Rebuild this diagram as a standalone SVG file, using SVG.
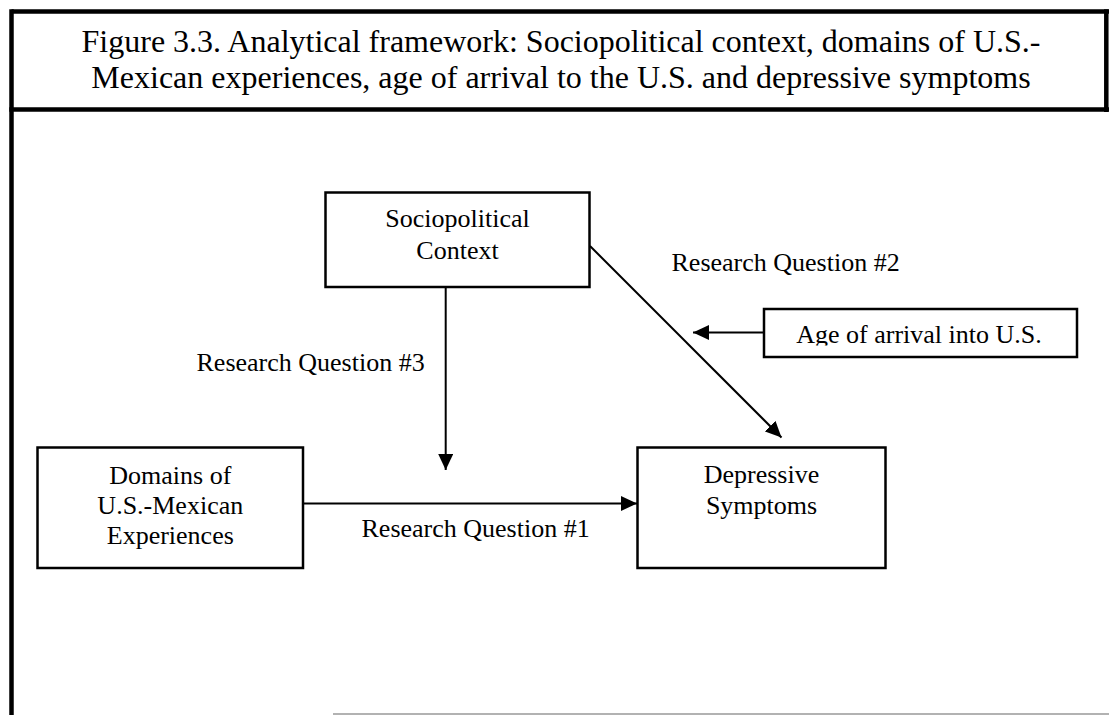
<svg xmlns="http://www.w3.org/2000/svg" width="1109" height="715" viewBox="0 0 1109 715">
<style>
text{font-family:"Liberation Serif","Times New Roman",serif;fill:#000}
.title{font-size:32px;text-anchor:middle}
.lbl{font-size:26px;text-anchor:middle}
.rq{font-size:26px}
.box{fill:#fff;stroke:#000;stroke-width:2.5}
.frame{fill:none;stroke:#000;stroke-width:4.5}
.conn line{stroke:#000;stroke-width:2}
</style>
<defs>
<marker id="ah" markerUnits="userSpaceOnUse" markerWidth="17" markerHeight="15" refX="16" refY="7.5" orient="auto">
<path d="M0,0 L16,7.5 L0,15 z" fill="#000"/>
</marker>
<clipPath id="ageclip"><rect x="764" y="309" width="313" height="36.5"/></clipPath>
</defs>
<rect width="1109" height="715" fill="#fff"/>
<g id="frame">
<line class="frame" x1="11.5" y1="11.5" x2="1109" y2="11.5"/>
<line class="frame" x1="11.5" y1="9.3" x2="11.5" y2="715"/>
<line class="frame" x1="1106.3" y1="9.3" x2="1106.3" y2="112"/>
<line class="frame" x1="9.3" y1="109.5" x2="1109" y2="109.5"/>
<line x1="333" y1="714" x2="1109" y2="714" stroke="#999" stroke-width="1.5"/>
</g>
<g id="title">
<text class="title" x="561" y="52">Figure 3.3. Analytical framework: Sociopolitical context, domains of U.S.-</text>
<text class="title" x="561" y="88">Mexican experiences, age of arrival to the U.S. and depressive symptoms</text>
</g>
<g id="connectors" class="conn">
<line x1="445.7" y1="287" x2="445.7" y2="470" marker-end="url(#ah)"/>
<line x1="303" y1="503.5" x2="637" y2="503.5" marker-end="url(#ah)"/>
<line x1="764" y1="332.5" x2="693" y2="332.5" marker-end="url(#ah)"/>
<line x1="590" y1="246" x2="781.5" y2="437.5" marker-end="url(#ah)"/>
</g>
<g id="node-sociopolitical">
<rect class="box" x="325.5" y="192.5" width="264" height="94.5"/>
<text class="lbl" x="457.5" y="227">Sociopolitical</text>
<text class="lbl" x="457.5" y="259">Context</text>
</g>
<g id="node-domains">
<rect class="box" x="37.5" y="447.5" width="265.5" height="120.5"/>
<text class="lbl" x="170.3" y="484">Domains of</text>
<text class="lbl" x="170.3" y="514">U.S.-Mexican</text>
<text class="lbl" x="170.3" y="544">Experiences</text>
</g>
<g id="node-depressive">
<rect class="box" x="637.5" y="447.5" width="248" height="120.5"/>
<text class="lbl" x="761.5" y="483">Depressive</text>
<text class="lbl" x="761.5" y="514">Symptoms</text>
</g>
<g id="node-age">
<rect class="box" x="764" y="309" width="313" height="48"/>
<text class="lbl" x="919" y="343.3" clip-path="url(#ageclip)">Age of arrival into U.S.</text>
</g>
<g id="labels">
<text class="rq" x="671.5" y="270.5">Research Question #2</text>
<text class="rq" x="196.5" y="370.5">Research Question #3</text>
<text class="rq" x="361.5" y="537.3">Research Question #1</text>
</g>
</svg>
